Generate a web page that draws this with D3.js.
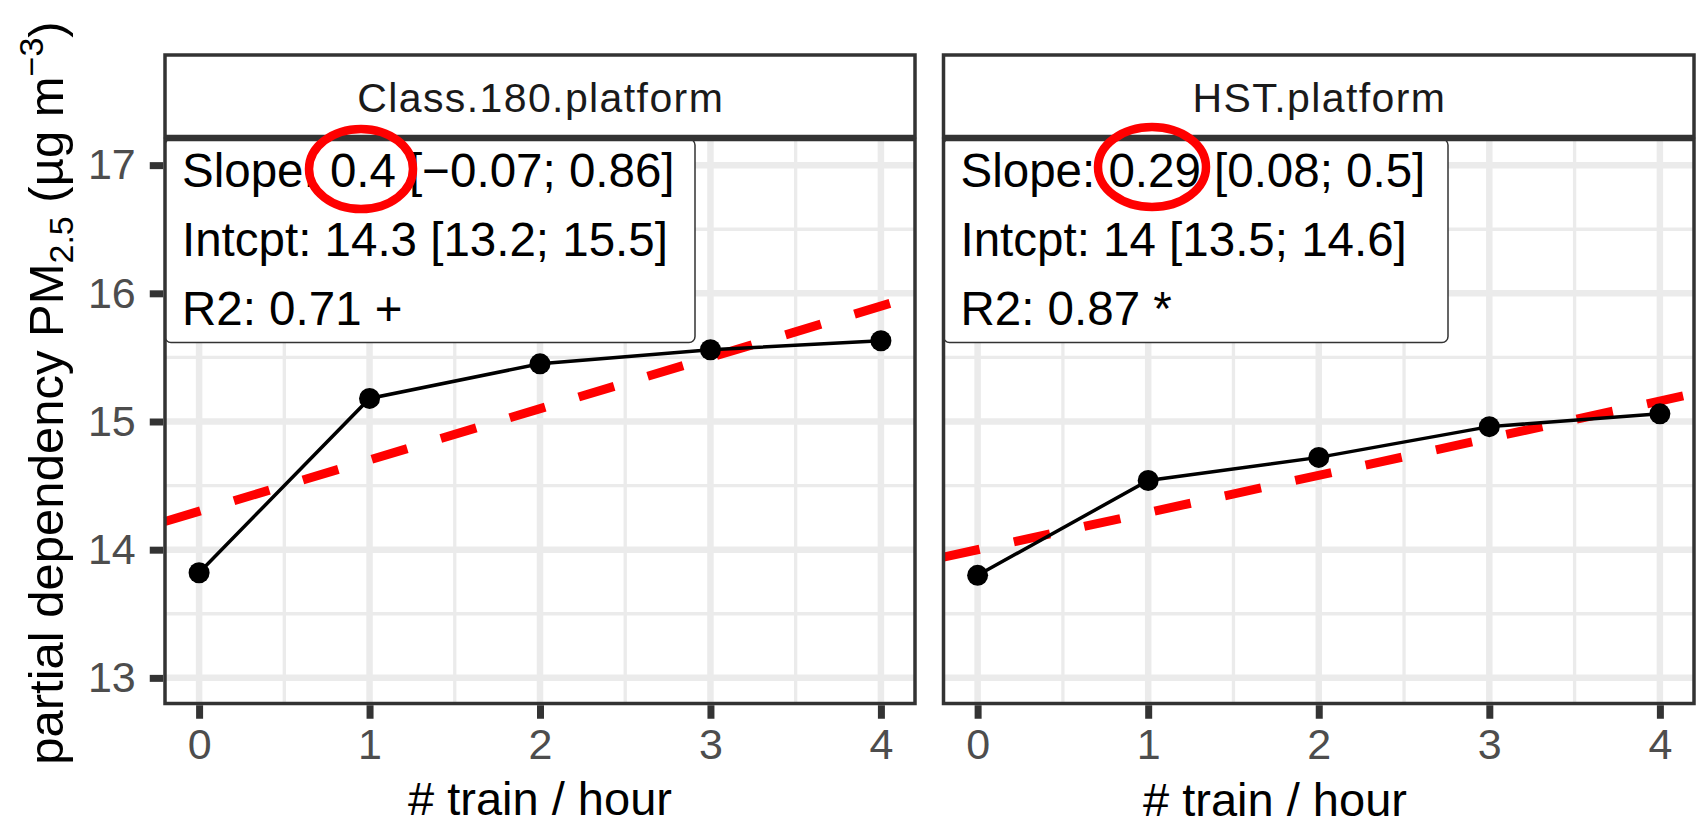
<!DOCTYPE html>
<html>
<head>
<meta charset="utf-8">
<script src="https://cdn.jsdelivr.net/npm/d3@7"></script>
<style>
  body { margin: 0; background: #fff; }
  svg { display: block; }
  text { font-family: "Liberation Sans", Arial, Helvetica, sans-serif; }
</style>
</head>
<body>
<svg id="chart" width="1702" height="826"></svg>
<script>
// Partial dependency of PM2.5 on train frequency, one facet per platform
const trainsPerHour = [0, 1, 2, 3, 4];
const panelNames = ["Class.180.platform", "HST.platform"];
const class180Values = [13.82, 15.18, 15.45, 15.56, 15.63];
const hstValues = [13.80, 14.54, 14.72, 14.96, 15.06];
const fitSlopes = [0.4, 0.29];
const fitIntercepts = [14.3, 14];
const fitLabels = [
  ["Slope: 0.4 [\u22120.07; 0.86]", "Intcpt: 14.3 [13.2; 15.5]", "R2: 0.71 +"],
  ["Slope: 0.29 [0.08; 0.5]", "Intcpt: 14 [13.5; 14.6]", "R2: 0.87 *"]
];
const yTicks = [13, 14, 15, 16, 17];
const yMinor = [13.5, 14.5, 15.5, 16.5];
const xTicks = [0, 1, 2, 3, 4];
const xMinor = [0.5, 1.5, 2.5, 3.5];

const svg = d3.select("#chart");
svg.append("rect").attr("width", 1702).attr("height", 826).attr("fill", "#fff");

const panelTop = 139.5, panelBottom = 703.5;
const stripTop = 55, stripBottom = 136.5;
const y = d3.scaleLinear().domain([12.8, 17.2]).range([panelBottom, panelTop]);

const panels = [
  { name: panelNames[0], values: class180Values, slope: fitSlopes[0], intercept: fitIntercepts[0],
    labels: fitLabels[0], left: 165, right: 915, boxRight: 695,
    ring: { cx: 361, cy: 169, rx: 52, ry: 40 }, titleX: 540, titleY: 815 },
  { name: panelNames[1], values: hstValues, slope: fitSlopes[1], intercept: fitIntercepts[1],
    labels: fitLabels[1], left: 943.5, right: 1694, boxRight: 1448,
    ring: { cx: 1152, cy: 167, rx: 54, ry: 40 }, titleX: 1275, titleY: 816 }
];

const gridColor = "#ebebeb";
const darkLine = "#333333";

panels.forEach((p, i) => {
  const x = d3.scaleLinear().domain([-0.2, 4.2]).range([p.left, p.right]);
  const g = svg.append("g");

  // panel background
  g.append("rect").attr("x", p.left).attr("y", panelTop)
    .attr("width", p.right - p.left).attr("height", panelBottom - panelTop).attr("fill", "#fff");

  // minor grid
  g.selectAll(null).data(xMinor).join("line")
    .attr("x1", d => x(d)).attr("x2", d => x(d)).attr("y1", panelTop).attr("y2", panelBottom)
    .attr("stroke", gridColor).attr("stroke-width", 3.3);
  g.selectAll(null).data(yMinor).join("line")
    .attr("x1", p.left).attr("x2", p.right).attr("y1", d => y(d)).attr("y2", d => y(d))
    .attr("stroke", gridColor).attr("stroke-width", 3.3);
  // major grid
  g.selectAll(null).data(xTicks).join("line")
    .attr("x1", d => x(d)).attr("x2", d => x(d)).attr("y1", panelTop).attr("y2", panelBottom)
    .attr("stroke", gridColor).attr("stroke-width", 6.5);
  g.selectAll(null).data(yTicks).join("line")
    .attr("x1", p.left).attr("x2", p.right).attr("y1", d => y(d)).attr("y2", d => y(d))
    .attr("stroke", gridColor).attr("stroke-width", 6.5);

  // fitted line (dashed red), spanning the panel
  const xd = x.domain();
  g.append("line")
    .attr("x1", x(xd[0])).attr("y1", y(p.intercept + p.slope * xd[0]))
    .attr("x2", x(xd[1])).attr("y2", y(p.intercept + p.slope * xd[1]))
    .attr("stroke", "#ff0000").attr("stroke-width", 9)
    .attr("stroke-dasharray", "37,35").attr("stroke-linecap", "butt");

  // partial dependency line and points
  const pts = trainsPerHour.map((t, k) => [t, p.values[k]]);
  g.append("path").datum(pts)
    .attr("d", d3.line().x(d => x(d[0])).y(d => y(d[1])))
    .attr("fill", "none").attr("stroke", "#000").attr("stroke-width", 3.5);
  g.selectAll(null).data(pts).join("circle")
    .attr("cx", d => x(d[0])).attr("cy", d => y(d[1])).attr("r", 10.5).attr("fill", "#000");

  // regression label box
  g.append("rect").attr("x", p.left).attr("y", panelTop - 0.5)
    .attr("width", p.boxRight - p.left).attr("height", 342.5 - panelTop + 0.5)
    .attr("rx", 6).attr("fill", "#fff").attr("stroke", darkLine).attr("stroke-width", 1.5);
  g.selectAll(null).data(p.labels).join("text")
    .attr("x", p.left + 17).attr("y", (d, k) => 187 + k * 69)
    .attr("font-size", 47.5).attr("fill", "#000").text(d => d);

  // panel border
  g.append("rect").attr("x", p.left).attr("y", panelTop)
    .attr("width", p.right - p.left).attr("height", panelBottom - panelTop)
    .attr("fill", "none").attr("stroke", darkLine).attr("stroke-width", 3.5);

  // facet strip
  g.append("rect").attr("x", p.left).attr("y", stripTop)
    .attr("width", p.right - p.left).attr("height", stripBottom - stripTop)
    .attr("fill", "#fff").attr("stroke", darkLine).attr("stroke-width", 3.5);
  g.append("text").attr("x", (p.left + p.right) / 2 + 0.7).attr("y", 111.5)
    .attr("text-anchor", "middle").attr("font-size", 41).attr("letter-spacing", 1.4)
    .attr("fill", "#1a1a1a").text(p.name);

  // highlight ring around the slope estimate
  g.append("ellipse").attr("cx", p.ring.cx).attr("cy", p.ring.cy)
    .attr("rx", p.ring.rx).attr("ry", p.ring.ry)
    .attr("fill", "none").attr("stroke", "#ff0000").attr("stroke-width", 8.5);

  // x axis
  const xAxis = d3.axisBottom(x).tickValues(xTicks).tickSize(13.5).tickPadding(10).tickFormat(d3.format("d"));
  const ax = g.append("g").attr("transform", `translate(0,${panelBottom + 1.75})`).call(xAxis);
  ax.select(".domain").remove();
  ax.selectAll(".tick line").attr("stroke", darkLine).attr("stroke-width", 7);
  ax.selectAll(".tick text").attr("font-size", 43).attr("fill", "#4d4d4d")
    .attr("font-family", "'Liberation Sans', Arial, sans-serif");

  // x axis title
  g.append("text").attr("x", p.titleX).attr("y", p.titleY).attr("text-anchor", "middle")
    .attr("font-size", 47).attr("fill", "#000").text("# train / hour");

  // y axis only on the first facet
  if (i === 0) {
    const yAxis = d3.axisLeft(y).tickValues(yTicks).tickSize(13.5).tickPadding(14).tickFormat(d3.format("d"));
    const ay = g.append("g").attr("transform", `translate(${p.left - 1.75},0)`).call(yAxis);
    ay.select(".domain").remove();
    ay.selectAll(".tick line").attr("stroke", darkLine).attr("stroke-width", 7);
    ay.selectAll(".tick text").attr("font-size", 43).attr("fill", "#4d4d4d")
      .attr("font-family", "'Liberation Sans', Arial, sans-serif");
  }
});

// y axis title with subscript and superscript
const yTitle = svg.append("text")
  .attr("transform", "translate(63,393) rotate(-90)")
  .attr("text-anchor", "middle").attr("font-size", 49).attr("fill", "#000");
yTitle.append("tspan").text("partial dependency PM");
yTitle.append("tspan").attr("font-size", 34).attr("dy", 10).text("2.5");
yTitle.append("tspan").attr("dy", -10).text(" (\u00b5g m");
yTitle.append("tspan").attr("font-size", 34).attr("dy", -20).text("\u22123");
yTitle.append("tspan").attr("dy", 20).text(")");
</script>
</body>
</html>
